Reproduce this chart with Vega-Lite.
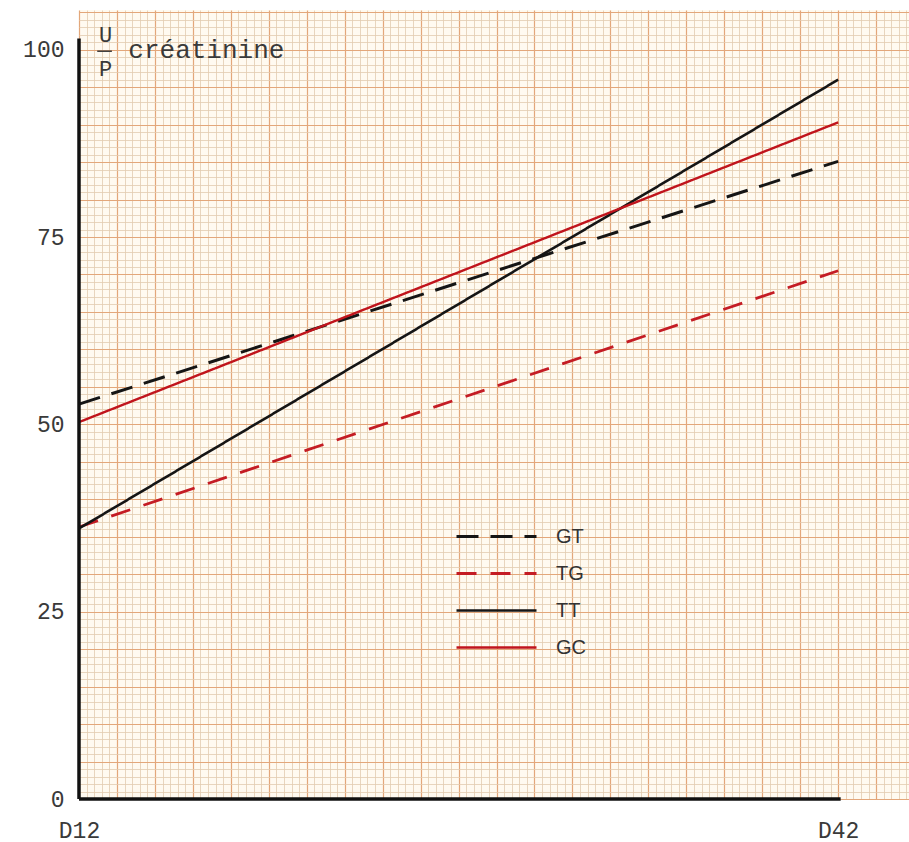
{
  "$schema": "https://vega.github.io/schema/vega-lite/v6.json",
  "width": 830,
  "height": 789,
  "autosize": {"type": "none"},
  "padding": {"left": 79, "top": 10, "right": 0, "bottom": 43},
  "background": "#ffffff",
  "config": {
    "view": {"fill": "#fffaf0", "stroke": null},
    "axis": {"title": null}
  },
  "layer": [
    {
      "data": {
        "values": [
          {"series": "GT", "day": 12, "value": 52.7},
          {"series": "GT", "day": 42, "value": 85.1},
          {"series": "TG", "day": 12, "value": 36.3},
          {"series": "TG", "day": 42, "value": 70.5},
          {"series": "TT", "day": 12, "value": 36.1},
          {"series": "TT", "day": 42, "value": 96.0},
          {"series": "GC", "day": 12, "value": 50.3},
          {"series": "GC", "day": 42, "value": 90.3}
        ]
      },
      "mark": {"type": "line", "strokeCap": "butt"},
      "encoding": {
        "x": {
          "field": "day", "type": "quantitative",
          "scale": {"domain": [12, 44.8], "nice": false, "zero": false},
          "axis": {
            "orient": "bottom",
            "values": [12,12.3,12.6,12.9,13.2,13.5,13.8,14.1,14.4,14.7,15,15.3,15.6,15.9,16.2,16.5,16.8,17.1,17.4,17.7,18,18.3,18.6,18.9,19.2,19.5,19.8,20.1,20.4,20.7,21,21.3,21.6,21.9,22.2,22.5,22.8,23.1,23.4,23.7,24,24.3,24.6,24.9,25.2,25.5,25.8,26.1,26.4,26.7,27,27.3,27.6,27.9,28.2,28.5,28.8,29.1,29.4,29.7,30,30.3,30.6,30.9,31.2,31.5,31.8,32.1,32.4,32.7,33,33.3,33.6,33.9,34.2,34.5,34.8,35.1,35.4,35.7,36,36.3,36.6,36.9,37.2,37.5,37.8,38.1,38.4,38.7,39,39.3,39.6,39.9,40.2,40.5,40.8,41.1,41.4,41.7,42,42.3,42.6,42.9,43.2,43.5,43.8,44.1,44.4,44.7],
            "tickCount": 1000,
            "grid": true,
            "gridColor": {"condition": {"test": "abs((datum.value-12)/1.5 - round((datum.value-12)/1.5)) < 0.01", "value": "#e3a77a"}, "value": "#e2cbb0"},
            "gridWidth": {"condition": {"test": "abs((datum.value-12)/1.5 - round((datum.value-12)/1.5)) < 0.01", "value": 1.2}, "value": 0.8},
            "ticks": false,
            "domain": false,
            "labelExpr": "abs(datum.value-12) < 0.01 ? 'D12' : (abs(datum.value-42) < 0.01 ? 'D42' : '')",
            "labelOverlap": false,
            "labelFlush": false,
            "labelFont": "Liberation Mono",
            "labelFontSize": 23,
            "labelColor": "#3a3a3a",
            "labelPadding": 20
          }
        },
        "y": {
          "field": "value", "type": "quantitative",
          "scale": {"domain": [0, 105.3], "nice": false, "zero": false},
          "axis": {
            "values": [0,1,2,3,4,5,6,7,8,9,10,11,12,13,14,15,16,17,18,19,20,21,22,23,24,25,26,27,28,29,30,31,32,33,34,35,36,37,38,39,40,41,42,43,44,45,46,47,48,49,50,51,52,53,54,55,56,57,58,59,60,61,62,63,64,65,66,67,68,69,70,71,72,73,74,75,76,77,78,79,80,81,82,83,84,85,86,87,88,89,90,91,92,93,94,95,96,97,98,99,100,101,102,103,104,105],
            "tickCount": 1000,
            "format": "d",
            "grid": true,
            "gridColor": {"condition": {"test": "datum.value % 5 === 0", "value": "#e3a77a"}, "value": "#e2cbb0"},
            "gridWidth": {"condition": {"test": "datum.value % 5 === 0", "value": 1.2}, "value": 0.8},
            "ticks": false,
            "domain": false,
            "labelExpr": "datum.value % 25 === 0 ? format(datum.value, 'd') : ''",
            "labelOverlap": false,
            "labelFlush": false,
            "labelFont": "Liberation Mono",
            "labelFontSize": 23,
            "labelColor": "#3a3a3a",
            "labelPadding": 15
          }
        },
        "color": {
          "field": "series", "type": "nominal",
          "scale": {"domain": ["GT", "TG", "TT", "GC"], "range": ["#151515", "#c41c24", "#151515", "#c0141c"]},
          "legend": {
            "title": null,
            "orient": "none",
            "legendX": 406,
            "legendY": 515,
            "padding": 0,
            "symbolType": "M-4,0H4",
            "symbolSize": 400,
            "rowPadding": 15,
            "labelOffset": 48,
            "labelFont": "Liberation Sans",
            "labelFontSize": 20,
            "labelColor": "#333333",
            "labelLimit": 200
          }
        },
        "strokeDash": {
          "field": "series", "type": "nominal",
          "scale": {"domain": ["GT", "TG", "TT", "GC"], "range": [[22, 12], [20, 14], [1, 0], [1, 0]]},
          "legend": null
        },
        "strokeWidth": {
          "field": "series", "type": "nominal",
          "scale": {"domain": ["GT", "TG", "TT", "GC"], "range": [3, 2.4, 2, 3.6]},
          "legend": null
        }
      }
    },
    {
      "data": {"values": [{}]},
      "mark": {"type": "rule", "color": "#111111", "strokeWidth": 3.5},
      "encoding": {
        "x": {"datum": 12},
        "y": {"datum": 0},
        "y2": {"datum": 101.5}
      }
    },
    {
      "data": {"values": [{}]},
      "mark": {"type": "rule", "color": "#111111", "strokeWidth": 3.5},
      "encoding": {
        "y": {"datum": 0},
        "x": {"datum": 12},
        "x2": {"datum": 42.1}
      }
    },
    {
      "data": {"values": [{}]},
      "mark": {"type": "text", "text": "U", "font": "Liberation Mono", "fontSize": 22, "color": "#3a3a3a", "align": "center", "baseline": "middle"},
      "encoding": {"x": {"datum": 13.05}, "y": {"datum": 102.0}}
    },
    {
      "data": {"values": [{}]},
      "mark": {"type": "text", "text": "P", "font": "Liberation Mono", "fontSize": 22, "color": "#3a3a3a", "align": "center", "baseline": "middle"},
      "encoding": {"x": {"datum": 13.05}, "y": {"datum": 97.4}}
    },
    {
      "data": {"values": [{}]},
      "mark": {"type": "rule", "color": "#3a3a3a", "strokeWidth": 1.5},
      "encoding": {"x": {"datum": 12.72}, "x2": {"datum": 13.3}, "y": {"datum": 99.8}}
    },
    {
      "data": {"values": [{}]},
      "mark": {"type": "text", "text": "créatinine", "font": "Liberation Mono", "fontSize": 26, "color": "#3a3a3a", "align": "left", "baseline": "middle"},
      "encoding": {"x": {"datum": 13.95}, "y": {"datum": 100.0}}
    }
  ]
}
